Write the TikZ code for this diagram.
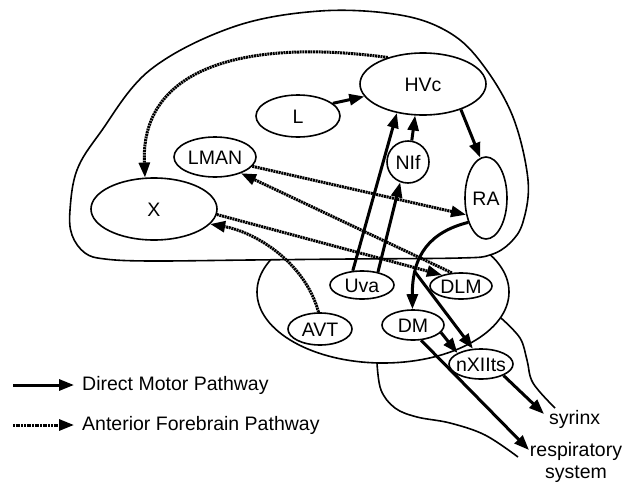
\documentclass[tikz,border=0pt]{standalone}
\usepackage{fontspec}
\setmainfont{Liberation Sans}
\usetikzlibrary{arrows.meta,shapes.geometric}
\newcommand\ctr[1]{\smash{\raisebox{-0.36em}{\makebox[0pt]{#1}}}}
\begin{document}
\begin{tikzpicture}[x=1pt,y=-1pt,
  outline/.style={line width=1.6pt, line join=round},
  area/.style={ellipse, draw, line width=1.6pt, fill=white, inner sep=0pt, font=\fontsize{19.5}{22}\selectfont},
  dmp/.style={line width=3pt, -{Triangle[length=15pt,width=11pt]}},
  afp/.style={line width=3pt, dash pattern=on 2pt off 0.7pt, -{Triangle[length=15pt,width=11pt]}},
  lbl/.style={font=\fontsize{19.5}{22}\selectfont, inner sep=0pt}]
\fill[white] (0,0) rectangle (624,485);
\useasboundingbox (0,0) rectangle (624,485);
% midbrain / thalamus
\draw[outline] (383,292) ellipse [x radius=126pt, y radius=71pt];
% brainstem
\draw[outline] plot[smooth, tension=0.6] coordinates {(501,318) (520,338) (527,360) (533,383) (555,408)};
\draw[outline] plot[smooth, tension=0.6] coordinates {(377,363) (381,390) (395,408) (417,417) (450,423) (485,435) (518,457)};
% telencephalon
\draw[outline, fill=white] plot[smooth cycle, tension=0.6] coordinates {(85,253) (72,235) (70,210) (77,170) (100,133) (150,70) (233,27) (320,11) (400,15) (450,33) (483,65) (513,117) (528,180) (523,222) (510,243) (490,255) (460,258) (350,259) (250,260) (150,261) (105,259)};
% nuclei
\node[area, minimum width=126pt, minimum height=62pt] (HVc) at (423,84) {\ctr{HVc}};
\node[area, minimum width=84pt, minimum height=42pt] (L) at (298,116) {\ctr{L}};
\node[area, minimum width=82pt, minimum height=40pt] (LMAN) at (215,157) {\ctr{LMAN}};
\node[area, minimum width=126pt, minimum height=62pt] (X) at (154,209) {\ctr{X}};
\node[area, minimum width=42pt, minimum height=42pt] (NIf) at (408,162) {\ctr{NIf}};
\node[area, minimum width=42pt, minimum height=82pt] (RA) at (486,198) {\ctr{RA}};
\node[area, minimum width=64pt, minimum height=28pt] (Uva) at (362,285) {\ctr{Uva}};
\node[area, minimum width=64pt, minimum height=32pt] (AVT) at (320,329) {\ctr{AVT}};
\node[area, minimum width=62pt, minimum height=30pt] (DM) at (413,325) {\ctr{DM}};
\node[area, minimum width=62pt, minimum height=26pt] (DLM) at (461,286) {\ctr{DLM}};
\node[area, minimum width=64pt, minimum height=30pt] (nX) at (481,364) {\ctr{nXIIts}};
% labels
\node[lbl, anchor=west] (syr) at (549,419) {syrinx};
\node[lbl, align=center] (resp) at (576,462) {respiratory\\system};
\coordinate (syrtip) at (544,414);
\coordinate (resptip) at (529,450);
\coordinate (br) at (415,272);
% direct motor pathway
\draw[dmp] (L.20) -- (HVc.192);
\draw[dmp] (HVc.-34) -- (RA.98);
\draw[dmp] (Uva.123) -- (HVc.228);
\draw[dmp] (Uva.39) -- (NIf.249);
\draw[dmp] (NIf.80) -- (HVc.256);
\draw[dmp] (RA.234) .. controls (430,232) and (412,255) .. (DM.92);
\draw[dmp] (br) -- (nX.118);
\draw[dmp] (DM.-15) -- (nX.155);
\draw[dmp] (nX.-27) -- (syrtip);
\draw[dmp] (DM.-62) -- (resptip);
% anterior forebrain pathway
\draw[afp] (HVc.143) .. controls (260,40) and (140,60) .. (X.106);
\draw[afp] (AVT.95) .. controls (305,262) and (255,232) .. (X.-15);
\draw[afp] (X.-5) -- (DLM.150);
\draw[afp] (DLM.125) -- (LMAN.-32);
\draw[afp] (LMAN.-14) -- (RA.220);
% legend
\coordinate (a1) at (13,385);
\coordinate (a2) at (74,385);
\coordinate (b1) at (13,425);
\coordinate (b2) at (74,425);
\draw[dmp] (a1) -- (a2);
\draw[afp] (b1) -- (b2);
\node[lbl, anchor=west] (t1) at (82,385) {Direct Motor Pathway};
\node[lbl, anchor=west] (t2) at (82,425) {Anterior Forebrain Pathway};
\end{tikzpicture}
\end{document}
